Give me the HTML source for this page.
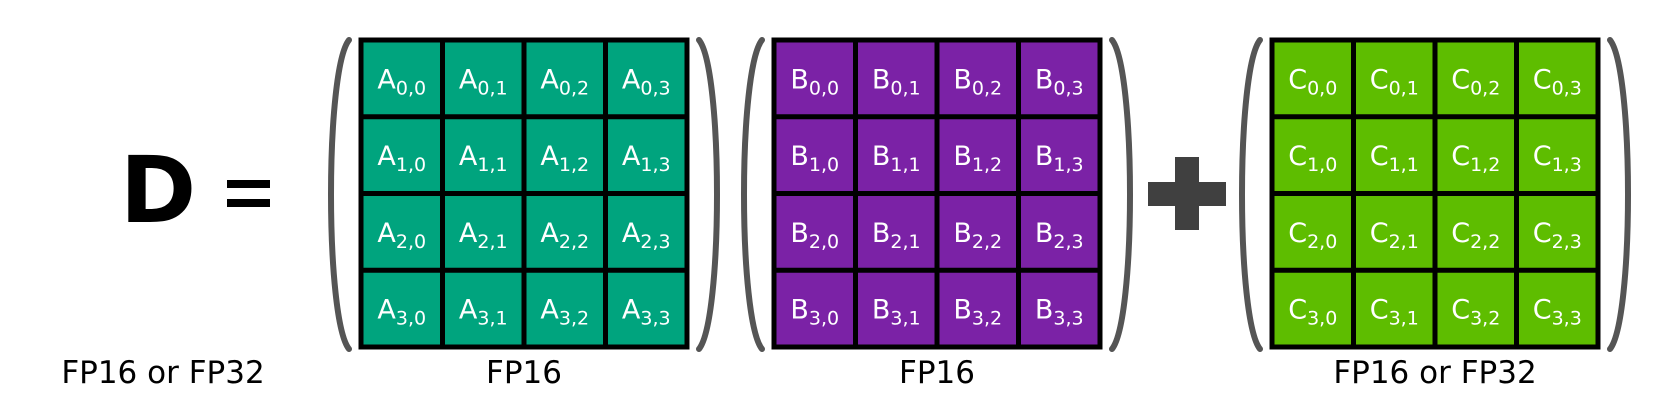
<!DOCTYPE html>
<html><head><meta charset="utf-8"><style>
html,body{margin:0;padding:0;background:#fff;width:1656px;height:420px;overflow:hidden}
svg{display:block}
text{font-family:"DejaVu Sans","Liberation Sans",sans-serif}
</style></head><body>
<svg width="1656" height="420" viewBox="0 0 1656 420">
<text x="158" y="222" font-size="92" font-weight="bold" text-anchor="middle">D</text>
<g fill="#000"><rect x="227" y="180" width="43" height="8"/><rect x="227" y="199" width="43" height="8"/></g>
<text x="163" y="383" font-size="31" text-anchor="middle">FP16 or FP32</text>
<g fill="#404040"><rect x="1175" y="157" width="24" height="73"/><rect x="1148" y="182" width="78" height="24"/></g>
<g id="mats"></g>
</svg>
<script>
const matrices = [
  {name:'a', letter:'A', color:'#00a47e', x:361, label:'FP16'},
  {name:'b', letter:'B', color:'#7b22a6', x:774, label:'FP16'},
  {name:'c', letter:'C', color:'#5ebd00', x:1272, label:'FP16 or FP32'}
];
const NS='http://www.w3.org/2000/svg';
const g=document.getElementById('mats');
function mk(t,a){const e=document.createElementNS(NS,t);for(const k in a)e.setAttribute(k,a[k]);return e;}
const TOPY=40,W=326,H=307,cw=W/4,ch=H/4;
matrices.forEach(m=>{
  const grp=mk('g',{});
  
  
  const lx=m.x-12, rx=m.x+W+12, b=TOPY+H+2;
  const lp=mk('path',{d:`M ${lx} ${TOPY} C ${lx-24} ${TOPY+30}, ${lx-24} ${b-30}, ${lx} ${b}`,fill:'none',stroke:'#555',"stroke-width":6,"stroke-linecap":"round"});
  
  
  const rp=mk('path',{d:`M ${rx} ${TOPY} C ${rx+24} ${TOPY+30}, ${rx+24} ${b-30}, ${rx} ${b}`,fill:'none',stroke:'#555',"stroke-width":6,"stroke-linecap":"round"});
  
  
  grp.appendChild(lp);grp.appendChild(rp);
  grp.appendChild(mk('rect',{x:m.x,y:TOPY,width:W,height:H,fill:m.color,stroke:'#000','stroke-width':5}));
  for(let i=1;i<4;i++){
    grp.appendChild(mk('line',{x1:m.x+cw*i,y1:TOPY,x2:m.x+cw*i,y2:TOPY+H,stroke:'#000','stroke-width':5}));
    grp.appendChild(mk('line',{x1:m.x,y1:TOPY+ch*i,x2:m.x+W,y2:TOPY+ch*i,stroke:'#000','stroke-width':5}));
  }
  for(let r=0;r<4;r++)for(let c=0;c<4;c++){
    const t=mk('text',{x:m.x+cw*c+cw/2,y:TOPY+ch*r+ch/2+10,fill:'#fff','font-size':27,'text-anchor':'middle'});
    
    
    t.textContent=m.letter;
    const s=mk('tspan',{'font-size':19,dy:6});s.textContent=r+','+c;t.appendChild(s);
    grp.appendChild(t);
  }
  const lb=mk('text',{x:m.x+W/2,y:383,'font-size':31,'text-anchor':'middle',fill:'#000'});
  
  
  lb.textContent=m.label;grp.appendChild(lb);
  g.appendChild(grp);
});
</script>
</body></html>
